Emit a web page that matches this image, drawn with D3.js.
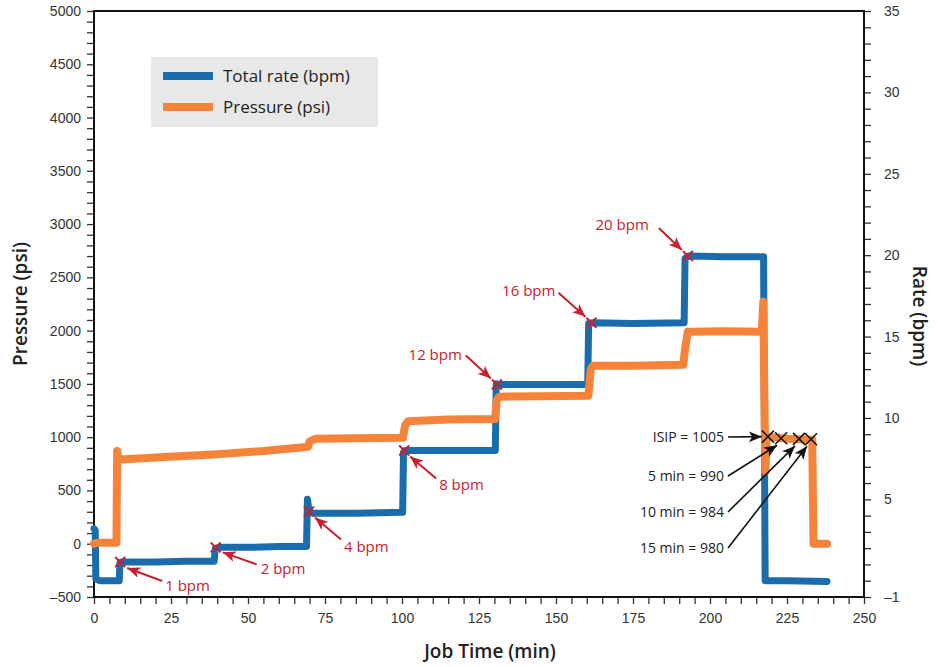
<!DOCTYPE html>
<html>
<head>
<meta charset="utf-8">
<script src="https://cdn.jsdelivr.net/npm/d3@7"></script>
<style>
  body { margin: 0; background: #fff; }
  svg { font-family: "Open Sans", sans-serif; }
  .tick text { fill: #333; font-size: 14px; }
  .tick line { stroke: #333; }
</style>
</head>
<body>
<script>
// job time (min) vs total rate (bpm)
var rateSeries = [
  [0, 3.2], [0.4, 3.1], [0.6, 0.1], [2, 0.0], [8.2, 0.0], [8.4, 1.1], [9, 1.15],
  [20, 1.15], [30, 1.2], [39, 1.2], [39.4, 2.0], [41, 2.05], [50, 2.05], [60, 2.1], [69, 2.1],
  [69.3, 5.0], [69.8, 4.3], [71, 4.15], [85, 4.15], [100.2, 4.2],
  [100.5, 7.9], [101, 8.0], [115, 8.0], [130.3, 8.0],
  [130.6, 12.1], [131.5, 12.05], [145, 12.05], [160.3, 12.05],
  [160.6, 15.8], [162, 15.85], [175, 15.8], [191.6, 15.85],
  [191.9, 19.8], [193, 19.95], [205, 19.9], [217.4, 19.9],
  [217.9, 0.0], [225, 0.0], [238, -0.05]
];

// job time (min) vs pressure (psi)
var pressureSeries = [
  [0, 0], [1, 10], [7.3, 10], [7.5, 870], [7.9, 800], [8.5, 790], [20, 810], [40, 840],
  [55, 870], [68, 905], [69.5, 910], [70, 960], [72, 985], [85, 990], [100.3, 995],
  [101, 1110], [102, 1150], [115, 1165], [130.2, 1170],
  [130.8, 1350], [131.5, 1380], [145, 1385], [160.5, 1390],
  [161.3, 1640], [162, 1670], [175, 1670], [191.3, 1680],
  [192, 1850], [192.8, 1990], [205, 1995], [216.8, 1990],
  [217.1, 2150], [217.3, 2270], [217.6, 1500], [218, 680], [218.4, 1005],
  [219, 1005], [225, 985], [233.2, 975], [233.6, 0], [238, 0]
];

// rate steps marked with a cross: time, rate, label
var rateMarks = [
  [8.5, 1.15, "1 bpm"], [39.5, 2.05, "2 bpm"], [69.8, 4.25, "4 bpm"], [100.7, 8.0, "8 bpm"],
  [130.8, 12.05, "12 bpm"], [161.5, 15.85, "16 bpm"], [192.8, 19.95, "20 bpm"]
];

// shut-in pressure readings: time, pressure, label
var shutInMarks = [
  [218.8, 1005, "ISIP = 1005"], [223.1, 990, "5 min = 990"],
  [228.9, 984, "10 min = 984"], [232.8, 980, "15 min = 980"]
];

var xTicks = d3.range(0, 251, 5);
var pressureTicks = d3.range(-500, 5001, 100);
var rateTicks = d3.range(-1, 36, 1);

var legendItems = ["Total rate (bpm)", "Pressure (psi)"];

var W = 938, H = 667;
var margin = {top: 11, right: 74, bottom: 70, left: 94};

var svg = d3.select("body").append("svg")
  .attr("width", W)
  .attr("height", H);

var x = d3.scaleLinear().domain([0, 250]).range([margin.left, W - margin.right]);
var yP = d3.scaleLinear().domain([-500, 5000]).range([H - margin.bottom, margin.top]);
var yR = d3.scaleLinear().domain([-1, 35]).range([H - margin.bottom, margin.top]);

var blue = "#1b6cad", orange = "#f5843a", red = "#c9202f";

var dash = function(v){ return v < 0 ? "\u2013" + Math.abs(v) : String(v); };

// axes
var leftAxis = svg.append("g")
  .attr("transform", "translate(" + margin.left + ",0)")
  .call(d3.axisLeft(yP).tickValues(pressureTicks).tickSize(7).tickPadding(6)
    .tickFormat(function(d){ return d % 500 === 0 ? dash(d) : ""; }));

var rightAxis = svg.append("g")
  .attr("transform", "translate(" + (W - margin.right) + ",0)")
  .call(d3.axisRight(yR).tickValues(rateTicks).tickSize(7).tickPadding(13)
    .tickFormat(function(d){ return (d === -1 || (d > 0 && d % 5 === 0)) ? dash(d) : ""; }));

var bottomAxis = svg.append("g")
  .attr("transform", "translate(0," + (H - margin.bottom) + ")")
  .call(d3.axisBottom(x).tickValues(xTicks).tickSize(7).tickPadding(9)
    .tickFormat(function(d){ return d % 25 === 0 ? d : ""; }));

[leftAxis, rightAxis, bottomAxis].forEach(function(g){
  g.select(".domain").remove();
  g.selectAll(".tick line").attr("stroke-width", 1.3);
});

// frame
svg.append("rect")
  .attr("x", margin.left).attr("y", margin.top)
  .attr("width", W - margin.left - margin.right)
  .attr("height", H - margin.top - margin.bottom)
  .attr("fill", "none").attr("stroke", "#111").attr("stroke-width", 2);

// axis titles
svg.append("text")
  .attr("transform", "translate(27," + ((margin.top + H - margin.bottom) / 2) + ") rotate(-90)")
  .attr("text-anchor", "middle")
  .attr("font-size", 19).attr("font-weight", 600).attr("fill", "#222")
  .text("Pressure (psi)");

svg.append("text")
  .attr("transform", "translate(913," + ((margin.top + H - margin.bottom) / 2 + 12) + ") rotate(90)")
  .attr("text-anchor", "middle")
  .attr("font-size", 19).attr("font-weight", 600).attr("fill", "#222")
  .text("Rate (bpm)");

svg.append("text")
  .attr("x", 490)
  .attr("y", 658)
  .attr("text-anchor", "middle")
  .attr("font-size", 19).attr("font-weight", 600).attr("fill", "#222")
  .text("Job Time (min)");

// series
var rateLine = d3.line().x(function(d){ return x(d[0]); }).y(function(d){ return yR(d[1]); });
var pressureLine = d3.line().x(function(d){ return x(d[0]); }).y(function(d){ return yP(d[1]); });

svg.append("path")
  .datum(rateSeries)
  .attr("d", rateLine)
  .attr("fill", "none").attr("stroke", blue).attr("stroke-width", 7)
  .attr("stroke-linejoin", "round").attr("stroke-linecap", "round");

svg.append("path")
  .datum(pressureSeries)
  .attr("d", pressureLine)
  .attr("fill", "none").attr("stroke", orange).attr("stroke-width", 8)
  .attr("stroke-linejoin", "round").attr("stroke-linecap", "round");

// arrow heads
var defs = svg.append("defs");
[["headRed", red], ["headBlack", "#111"]].forEach(function(m){
  defs.append("marker")
    .attr("id", m[0])
    .attr("viewBox", "0 0 12 10")
    .attr("refX", 12).attr("refY", 5)
    .attr("markerUnits", "userSpaceOnUse")
    .attr("markerWidth", 13).attr("markerHeight", 11)
    .attr("orient", "auto")
    .append("path").attr("d", "M0,0L12,5L0,10L3,5Z").attr("fill", m[1]);
});

function cross(g, cx, cy, r, color, w){
  g.append("path")
    .attr("d", "M" + (cx - r) + "," + (cy - r) + "L" + (cx + r) + "," + (cy + r) +
               "M" + (cx - r) + "," + (cy + r) + "L" + (cx + r) + "," + (cy - r))
    .attr("stroke", color).attr("stroke-width", w).attr("fill", "none");
}

// rate annotations: arrow tail, arrow head and label offsets from the cross
var rateLayout = [
  {tail: [42, 19], head: [7, 6], text: [45, 29], anchor: "start"},
  {tail: [41, 17], head: [7, 5], text: [45, 27], anchor: "start"},
  {tail: [32, 28], head: [6, 6], text: [35, 40], anchor: "start"},
  {tail: [32, 28], head: [6, 6], text: [35, 39], anchor: "start"},
  {tail: [-31, -29], head: [-6, -6], text: [-35, -25], anchor: "end"},
  {tail: [-33, -30], head: [-6, -6], text: [-36, -27], anchor: "end"},
  {tail: [-29, -28], head: [-6, -6], text: [-39, -26], anchor: "end"}
];

var notes = svg.append("g");
rateMarks.forEach(function(m, i){
  var cx = x(m[0]), cy = yR(m[1]), L = rateLayout[i];
  cross(notes, cx, cy, 5, red, 2);
  notes.append("line")
    .attr("x1", cx + L.tail[0]).attr("y1", cy + L.tail[1])
    .attr("x2", cx + L.head[0]).attr("y2", cy + L.head[1])
    .attr("stroke", red).attr("stroke-width", 2)
    .attr("marker-end", "url(#headRed)");
  notes.append("text")
    .attr("x", cx + L.text[0]).attr("y", cy + L.text[1])
    .attr("text-anchor", L.anchor)
    .attr("font-size", 15).attr("fill", red)
    .text(m[2]);
});

// shut-in annotations: labels stacked to the left of the pressure drop
var shutTextX = 724, shutTextY = [442, 481, 517, 553];
shutInMarks.forEach(function(m, i){
  var cx = x(m[0]), cy = yP(m[1]);
  cross(notes, cx, cy, 6, "#111", 1.5);
  var tailY = shutTextY[i] - 5;
  notes.append("line")
    .attr("x1", shutTextX + 4).attr("y1", tailY)
    .attr("x2", i === 0 ? cx - 6 : cx - 4).attr("y2", i === 0 ? cy : cy + 7)
    .attr("stroke", "#111").attr("stroke-width", 1.6)
    .attr("marker-end", "url(#headBlack)");
  notes.append("text")
    .attr("x", shutTextX).attr("y", shutTextY[i])
    .attr("text-anchor", "end")
    .attr("font-size", 14).attr("fill", "#222")
    .text(m[2]);
});

// legend
var legend = svg.append("g");
legend.append("rect")
  .attr("x", 151).attr("y", 57).attr("width", 227).attr("height", 70)
  .attr("fill", "#e8e8e8");
legendItems.forEach(function(name, i){
  var ly = 76 + i * 31;
  legend.append("line")
    .attr("x1", 163).attr("x2", 213).attr("y1", ly).attr("y2", ly)
    .attr("stroke", i === 0 ? blue : orange).attr("stroke-width", 8);
  legend.append("text")
    .attr("x", 223).attr("y", ly + 6)
    .attr("font-size", 17).attr("fill", "#222")
    .text(name);
});
</script>
</body>
</html>
